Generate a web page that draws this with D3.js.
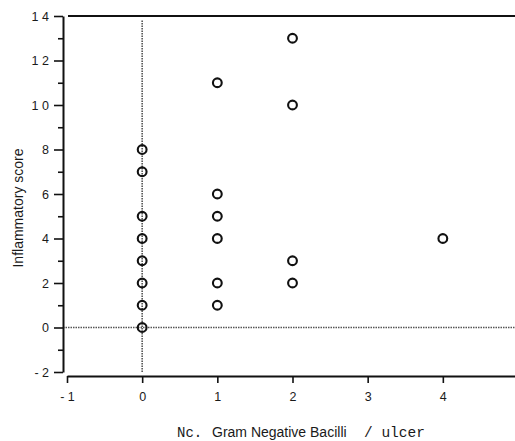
<!DOCTYPE html>
<html>
<head>
<meta charset="utf-8">
<script src="https://cdn.jsdelivr.net/npm/d3@7"></script>
<style>
  body { margin: 0; background: #fff; }
  svg { display: block; }
  .tick text { font-family: "Liberation Sans", Arial, sans-serif; fill: #1a1a1a; }
</style>
</head>
<body>
<div id="chart"></div>
<script>
"use strict";

// data: x = no. of gram negative bacilli, y = inflammatory score
var bacilli = [0, 0, 0, 0, 0, 0, 0, 0, 1, 1, 1, 1, 1, 1, 2, 2, 2, 2, 4];
var scores  = [0, 1, 2, 3, 4, 5, 7, 8, 1, 2, 4, 5, 6, 11, 2, 3, 10, 13, 4];
var xTicks = [-1, 0, 1, 2, 3, 4, 5];
var yTicks = [-2, 0, 2, 4, 6, 8, 10, 12, 14];
var yMinorTicks = [-1, 1, 3, 5, 7, 9, 11, 13];

var W = 515, H = 441;

var x = d3.scaleLinear().domain([-1, 5]).range([67, 518]);
var y = d3.scaleLinear().domain([-2, 14]).range([372, 16]);

// "14" -> "1 4", "-2" -> "- 2" like the old typeset labels
function spaced(d) {
  return String(d).split("").join(" ");
}

var svg = d3.select("#chart").append("svg")
  .attr("width", W)
  .attr("height", H);

// reference lines through zero
svg.append("line")
  .attr("x1", x(0)).attr("x2", x(0))
  .attr("y1", y(13.8)).attr("y2", y(-2))
  .attr("stroke", "#555").attr("stroke-width", 1.6)
  .attr("stroke-dasharray", "1.5,1");

svg.append("line")
  .attr("x1", 63).attr("x2", x(5))
  .attr("y1", y(0)).attr("y2", y(0))
  .attr("stroke", "#555").attr("stroke-width", 1.6)
  .attr("stroke-dasharray", "1.5,1");

// top frame line
svg.append("line")
  .attr("x1", x(-1) + 1).attr("x2", x(5))
  .attr("y1", y(14)).attr("y2", y(14))
  .attr("stroke", "#111").attr("stroke-width", 2);

// y axis, major + minor ticks
svg.append("g")
  .attr("transform", "translate(63,0)")
  .call(d3.axisLeft(y).tickValues(yTicks).tickSize(9).tickSizeOuter(0)
          .tickPadding(5).tickFormat(spaced));

svg.append("g")
  .attr("transform", "translate(63,0)")
  .call(d3.axisLeft(y).tickValues(yMinorTicks).tickSize(5).tickSizeOuter(0).tickFormat(""))
  .select(".domain").remove();

// x axis sits a little below the y axis end
svg.append("g")
  .attr("transform", "translate(0,376)")
  .call(d3.axisBottom(x).tickValues(xTicks).tickSize(7).tickSizeOuter(0)
          .tickPadding(9).tickFormat(spaced));

svg.selectAll(".domain").attr("stroke", "#111").attr("stroke-width", 2);
svg.selectAll(".tick line").attr("stroke", "#111").attr("stroke-width", 1.6);
svg.selectAll(".tick text").style("font-size", "12.5px");

// points
svg.append("g")
  .selectAll("circle")
  .data(bacilli)
  .join("circle")
    .attr("cx", d => x(d))
    .attr("cy", (d, i) => y(scores[i]))
    .attr("r", 4.4)
    .attr("fill", "none")
    .attr("stroke", "#111")
    .attr("stroke-width", 2.1);

// y axis title
svg.append("text")
  .attr("transform", "translate(23,208) rotate(-90)")
  .attr("text-anchor", "middle")
  .style("font-family", "'Liberation Sans', Arial, sans-serif")
  .style("font-size", "14px")
  .style("fill", "#1a1a1a")
  .text("Inflammatory score");

// x axis title, mixed typefaces as in the original
var xt = svg.append("text")
  .attr("y", 437)
  .style("fill", "#1a1a1a");
xt.append("tspan")
  .attr("x", 177)
  .style("font-family", "'Liberation Mono', monospace")
  .style("font-size", "14px")
  .text("Nc.");
xt.append("tspan")
  .attr("x", 212)
  .style("font-family", "'Liberation Sans', Arial, sans-serif")
  .style("font-size", "14px")
  .text("Gram Negative Bacilli");
xt.append("tspan")
  .attr("x", 364)
  .style("font-family", "'Liberation Mono', monospace")
  .style("font-size", "14.5px")
  .text("/ ulcer");
</script>
</body>
</html>
